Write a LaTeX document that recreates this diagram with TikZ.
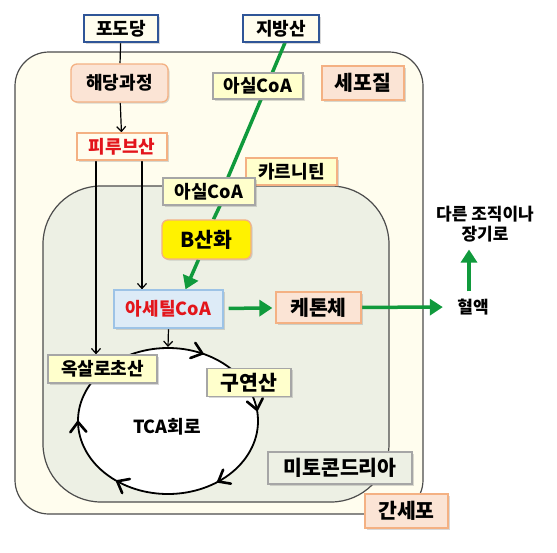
\documentclass[tikz,border=0pt]{standalone}
\usepackage{fontspec}
\setmainfont{Noto Sans CJK KR}
\usetikzlibrary{arrows.meta,shadows,decorations.markings}
\definecolor{cellfill}{HTML}{FFFDEE}
\definecolor{mitofill}{HTML}{EDF0E4}
\definecolor{peachfill}{HTML}{FBE4D5}
\definecolor{peachline}{HTML}{F4B183}
\definecolor{lemonfill}{HTML}{FFFFCC}
\definecolor{greyline}{HTML}{A6A6A6}
\definecolor{navyline}{HTML}{2F5597}
\definecolor{skyfill}{HTML}{DDEBF7}
\definecolor{skyline}{HTML}{9DC3E6}
\definecolor{pathgreen}{HTML}{109A3C}
\definecolor{acidred}{HTML}{E3151B}
\pgfdeclarelayer{back}
\pgfdeclarelayer{mid}
\pgfsetlayers{back,mid,main}
\tikzset{
  box/.style={draw, line width=1.3pt, inner sep=0pt,
    font=\fontsize{18}{20}\selectfont\bfseries,
    drop shadow={shadow xshift=1.5pt, shadow yshift=-1.5pt, opacity=0.3}},
  peachbox/.style={box, fill=peachfill, draw=peachline},
  lemonbox/.style={box, fill=lemonfill, draw=greyline},
  navybox/.style={box, fill=cellfill, draw=navyline},
  bigtext/.style={font=\fontsize{20.5}{22}\selectfont\bfseries},
  blk/.style={line width=1.2pt, -{Straight Barb[length=5pt,width=9pt]}},
  grn/.style={line width=3.5pt, draw=pathgreen, line cap=butt},
  grnarrow/.style={grn, -{Triangle[length=13pt,width=16pt]}},
}
% open V head placed on the TCA ring
\newcommand{\cyclebarb}{\draw[line width=2.6pt, line cap=round, line join=round, fill=none]
  (-9pt,8pt) -- (1pt,0pt) -- (-9pt,-8pt);}
\begin{document}
\begin{tikzpicture}[x=1pt,y=1pt]
  \useasboundingbox (0,0) rectangle (557,-552);
  % cell and mitochondrion
  \begin{pgfonlayer}{back}
    \draw[line width=1.2pt, draw=black!70, fill=cellfill, rounded corners=34pt]
      (15,-52) rectangle (423,-514);
    \draw[line width=1.2pt, draw=black!70, fill=mitofill, rounded corners=58pt]
      (43,-186) rectangle (389,-502);
  \end{pgfonlayer}
  \node[navybox, minimum width=74, minimum height=27] (glucose) at (121,-28.5) {포도당};
  \node[navybox, minimum width=76, minimum height=27] (fatty) at (281,-28.5) {지방산};
  \node[peachbox, rounded corners=6pt, minimum width=97, minimum height=38] (glyco) at (119.5,-83) {해당과정};
  \node[box, fill=cellfill, draw=peachline, text=acidred, minimum width=90, minimum height=27] (pyruvate) at (122,-146.5) {피루브산};
  \node[lemonbox, minimum width=90, minimum height=26] (acylA) at (258,-86) {아실CoA};
  \node[peachbox, bigtext, minimum width=82, minimum height=34] (cytosol) at (363,-83) {세포질};
  \node[box, fill=lemonfill, draw=peachline, minimum width=91, minimum height=27] (carnitine) at (291.5,-171.5) {카르니틴};
  \node[lemonbox, minimum width=92, minimum height=27] (acylB) at (209,-191.5) {아실CoA};
  \node[box, fill=yellow, draw=peachline, rounded corners=6pt, bigtext, minimum width=89, minimum height=39] (betaox) at (206.5,-239.5) {B산화};
  \node[box, fill=skyfill, draw=skyline, text=acidred, minimum width=109, minimum height=38] (acetyl) at (168.5,-309) {아세틸CoA};
  \node[peachbox, bigtext, minimum width=85, minimum height=31] (ketone) at (318.5,-307.5) {케톤체};
  \node[font=\fontsize{17}{19}\selectfont\bfseries] (blood) at (473,-307) {혈액};
  \node[font=\fontsize{17}{20}\selectfont\bfseries, align=center] (organs) at (485,-224) {다른 조직이나\\장기로};
  % TCA cycle
  \begin{pgfonlayer}{mid}
    \draw[line width=1.8pt, fill=white, decoration={markings,
        mark=at position 0.24 with {\cyclebarb},
        mark=at position 0.40 with {\cyclebarb},
        mark=at position 0.57 with {\cyclebarb},
        mark=at position 0.775 with {\cyclebarb},
        mark=at position 0.92 with {\cyclebarb}},
      postaction={decorate}]
      (168,-421) ++(150:90 and 73) arc[start angle=150, end angle=-210, x radius=90, y radius=73];
  \end{pgfonlayer}
  \coordinate (cycletop) at (168,-347);
  \node[font=\fontsize{18}{20}\selectfont\bfseries] (tca) at (167,-427) {TCA회로};
  \node[lemonbox, minimum width=109, minimum height=28] (oxalo) at (102.5,-369) {옥살로초산};
  \node[lemonbox, bigtext, minimum width=84, minimum height=28] (citrate) at (249,-382.5) {구연산};
  \node[box, fill=mitofill, draw=greyline, bigtext, minimum width=144, minimum height=32] (mito) at (340,-468) {미토콘드리아};
  \node[peachbox, bigtext, minimum width=83, minimum height=34] (liver) at (406.5,-511) {간세포};
  % connectors
  \begin{pgfonlayer}{mid}
    \draw[line width=1.2pt] (glucose) -- (glyco);
    \draw[blk] (glyco) -- (pyruvate);
    \draw[blk] ([xshift=-26]pyruvate.south) -- ([xshift=-26]pyruvate.south |- oxalo.north);
    \draw[blk] ([xshift=20]pyruvate.south) -- ([xshift=20]pyruvate.south |- acetyl.north);
    \draw[blk] (acetyl.south) -- (cycletop);
    \draw[grn] ([xshift=4]fatty.south) -- ([xshift=19]acylB.north);
    \draw[grn] ([xshift=11]acylB.south) -- ([xshift=7]betaox.north);
    \draw[grnarrow] ([xshift=-8]betaox.south) -- ([xshift=17]acetyl.north);
    \draw[grnarrow, shorten <=5pt, shorten >=3pt] (acetyl) -- (ketone);
    \draw[grnarrow, shorten >=11pt] (ketone) -- (blood);
    \draw[grnarrow, shorten <=4pt, shorten >=4pt] ([xshift=-4]blood.north) -- ([xshift=-16]organs.south);
  \end{pgfonlayer}
\end{tikzpicture}
\end{document}
